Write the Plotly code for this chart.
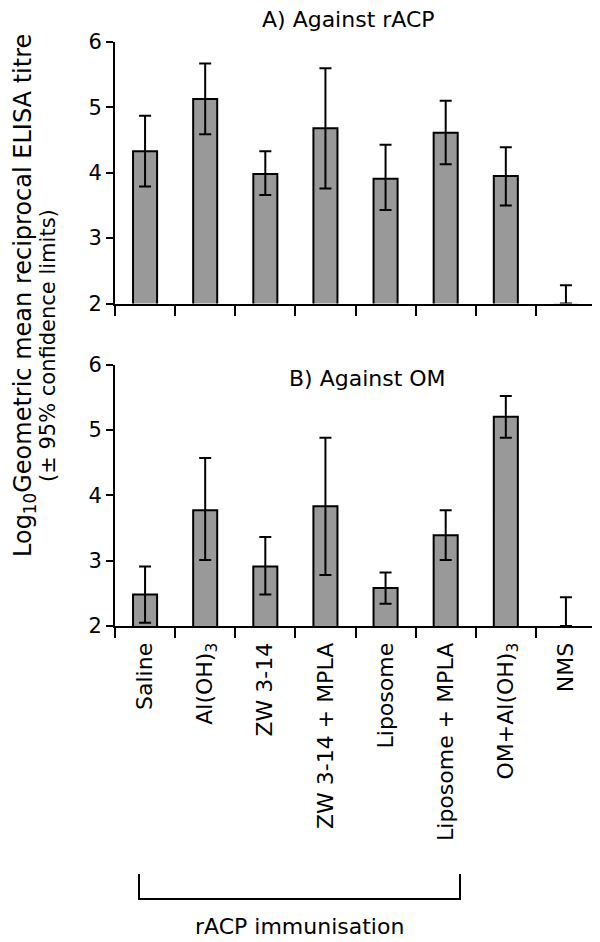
import plotly.graph_objects as go

# ---- data ----
categories = ["Saline", "Al(OH)<sub>3</sub>", "ZW 3-14", "ZW 3-14 + MPLA",
              "Liposome", "Liposome + MPLA", "OM+Al(OH)<sub>3</sub>", "NMS"]

racp_mean  = [4.33, 5.13, 3.98, 4.68, 3.91, 4.61, 3.95, 2.00]
racp_upper = [4.87, 5.67, 4.33, 5.60, 4.43, 5.10, 4.39, 2.28]
racp_lower = [3.79, 4.59, 3.66, 3.76, 3.43, 4.13, 3.50, 2.00]

om_mean  = [2.48, 3.77, 2.91, 3.83, 2.58, 3.39, 5.20, 2.00]
om_upper = [2.91, 4.57, 3.36, 4.88, 2.82, 3.77, 5.52, 2.44]
om_lower = [2.05, 3.01, 2.48, 2.78, 2.34, 3.01, 4.88, 2.00]

y_ticks = [2, 3, 4, 5, 6]

FONT = "DejaVu Sans"
W, H = 600, 942
L, R, T, B = 107, 588, 34, 618  # plot area pixel box


def X(px):
    return (px - L) / (R - L)


def Y(py):
    return (B - py) / (B - T)


def errs(mean, upper, lower):
    return ([u - m for u, m in zip(upper, mean)],
            [m - l for m, l in zip(mean, lower)])


fig = go.Figure()

for means, ups, lows, xa, ya in [(racp_mean, racp_upper, racp_lower, "x", "y"),
                                 (om_mean, om_upper, om_lower, "x2", "y2")]:
    plus, minus = errs(means, ups, lows)
    # bars that sit at the axis floor (value 2) draw no outline
    outline = [0 if m <= 2 else 2 for m in means]
    fig.add_trace(go.Bar(
        x=categories, y=means, xaxis=xa, yaxis=ya, width=0.4,
        marker=dict(color="#999999", line=dict(color="black", width=outline)),
        error_y=dict(type="data", symmetric=False, array=plus, arrayminus=minus,
                     color="black", thickness=2, width=6),
        showlegend=False, hoverinfo="skip"))

top_dom = [Y(295.5), 1.0]
bot_dom = [0.0, Y(356.5)]

axis_common = dict(showline=True, linecolor="black", linewidth=2, showgrid=False,
                   zeroline=False, ticks="outside", tickcolor="black", tickwidth=2)

fig.update_layout(
    width=W, height=H,
    margin=dict(l=L, r=W - R, t=T, b=H - B, pad=0),
    paper_bgcolor="white", plot_bgcolor="white",
    font=dict(family=FONT, color="black", size=22),
    xaxis=dict(domain=[0, 1], anchor="y", type="category", tickson="boundaries",
               ticklen=10, showticklabels=False, range=[-0.5, 7.5], **axis_common),
    yaxis=dict(domain=top_dom, anchor="x", range=[2, 6], tickvals=y_ticks,
               ticklen=7, tickfont=dict(size=21), **axis_common),
    xaxis2=dict(domain=[0, 1], anchor="y2", type="category", tickson="boundaries",
                ticklen=10, tickangle=-90, tickfont=dict(size=22),
                ticklabelstandoff=6, range=[-0.5, 7.5], **axis_common),
    yaxis2=dict(domain=bot_dom, anchor="x2", range=[2, 6], tickvals=y_ticks,
                ticklen=7, tickfont=dict(size=21), **axis_common),
)

ann = [
    dict(text="A) Against rACP", x=X(340), y=Y(11), font=dict(size=22)),
    dict(text="B) Against OM", x=X(359), y=Y(370), font=dict(size=22)),
    dict(text="Log<sub>10</sub>Geometric mean reciprocal ELISA titre",
         x=X(16), y=Y(288), textangle=-90, font=dict(size=24)),
    dict(text="(± 95% confidence limits)", x=X(40), y=Y(338), textangle=-90,
         font=dict(size=21)),
    dict(text="rACP immunisation", x=X(291), y=Y(918), font=dict(size=22)),
]
for a in ann:
    a.update(xref="paper", yref="paper", xanchor="center", yanchor="middle",
             showarrow=False)
fig.update_layout(annotations=ann)

bx1, bx2, by1, by2 = X(131), X(452), Y(866), Y(891)
fig.add_shape(type="path", xref="paper", yref="paper",
              path=f"M {bx1},{by1} L {bx1},{by2} L {bx2},{by2} L {bx2},{by1}",
              line=dict(color="black", width=2))

fig.write_html("out.html")
